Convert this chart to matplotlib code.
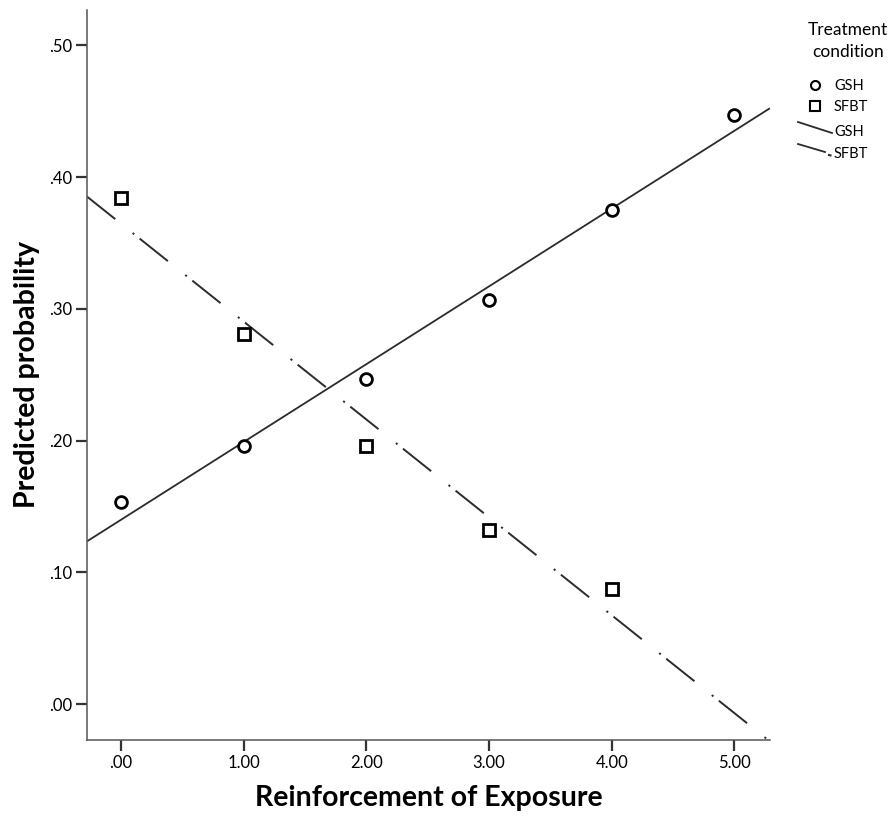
import numpy as np
import matplotlib
matplotlib.use("Agg")
import matplotlib.pyplot as plt
from matplotlib.lines import Line2D

# predicted probabilities per treatment group
x_gsh = [0, 1, 2, 3, 4, 5]
y_gsh = [0.153, 0.196, 0.247, 0.307, 0.375, 0.447]
x_sfbt = [0, 1, 2, 3, 4]
y_sfbt = [0.384, 0.281, 0.196, 0.132, 0.087]

xticks = [0, 1, 2, 3, 4, 5]
xtick_labels = [".00", "1.00", "2.00", "3.00", "4.00", "5.00"]
yticks = [0.0, 0.1, 0.2, 0.3, 0.4, 0.5]
ytick_labels = [".00", ".10", ".20", ".30", ".40", ".50"]

plt.rcParams["font.family"] = ["Lato", "DejaVu Sans"]
plt.rcParams["lines.scale_dashes"] = False

W, H = 890, 816
fig = plt.figure(figsize=(W / 100, H / 100), dpi=100)
ax = fig.add_axes([87 / W, 1 - 740 / H, (770 - 87) / W, (740 - 10) / H])

xlim = (-0.277, 5.29)
ylim = (-0.0273, 0.5268)
ax.set_xlim(*xlim)
ax.set_ylim(*ylim)

line_col = "#2b2b2b"
dashdot = (0, (26, 16, 1.5, 5))

# linear fit lines across the full axis range
xs = np.array(xlim)
b1, a1 = np.polyfit(x_gsh, y_gsh, 1)
b2, a2 = np.polyfit(x_sfbt, y_sfbt, 1)
ax.plot(xs, a1 + b1 * xs, color=line_col, lw=1.3, solid_capstyle="butt")
ax.plot(xs, a2 + b2 * xs, color=line_col, lw=1.4, linestyle=dashdot)

ax.plot(x_gsh, y_gsh, "o", ms=8.5, mfc="white", mec="black", mew=2.0, zorder=3)
ax.plot(x_sfbt, y_sfbt, "s", ms=8.5, mfc="white", mec="black", mew=2.0, zorder=3)

for s in ["top", "right"]:
    ax.spines[s].set_visible(False)
for s in ["left", "bottom"]:
    ax.spines[s].set_color("#555555")
    ax.spines[s].set_linewidth(1.1)

ax.set_xticks(xticks)
ax.set_xticklabels(xtick_labels)
ax.set_yticks(yticks)
ax.set_yticklabels(ytick_labels)
ax.tick_params(length=8, width=1.6, color="#333333", labelsize=12, pad=3)

ax.set_xlabel("Reinforcement of Exposure", fontsize=20.5, fontweight="bold", labelpad=10)
ax.set_ylabel("Predicted probability", fontsize=20.5, fontweight="bold", labelpad=6)


def px(x, y):
    return x / W, 1 - y / H


# legend on the right
fig.text(*px(848, 30), "Treatment", ha="center", va="center", fontsize=12.5)
fig.text(*px(848, 52), "condition", ha="center", va="center", fontsize=12.5)

fig.add_artist(Line2D(*zip(px(815, 85)), marker="o", ms=6.5, mfc="white",
                      mec="black", mew=1.5, transform=fig.transFigure))
fig.add_artist(Line2D(*zip(px(815, 106)), marker="s", ms=6.5, mfc="white",
                      mec="black", mew=1.5, transform=fig.transFigure))
fig.add_artist(Line2D(*zip(px(798, 122), px(832, 133)), color=line_col, lw=1.3,
                      transform=fig.transFigure))
fig.add_artist(Line2D(*zip(px(798, 144), px(825, 152)), color=line_col, lw=1.3,
                      transform=fig.transFigure))
fig.add_artist(Line2D(*zip(px(829, 155), px(830.5, 155.4)), color=line_col, lw=1.5,
                      transform=fig.transFigure))

for y, lab in [(86, "GSH"), (107, "SFBT"), (132, "GSH"), (154, "SFBT")]:
    fig.text(*px(834, y), lab, ha="left", va="center", fontsize=10.5)

fig.savefig("out.png", dpi=100)
